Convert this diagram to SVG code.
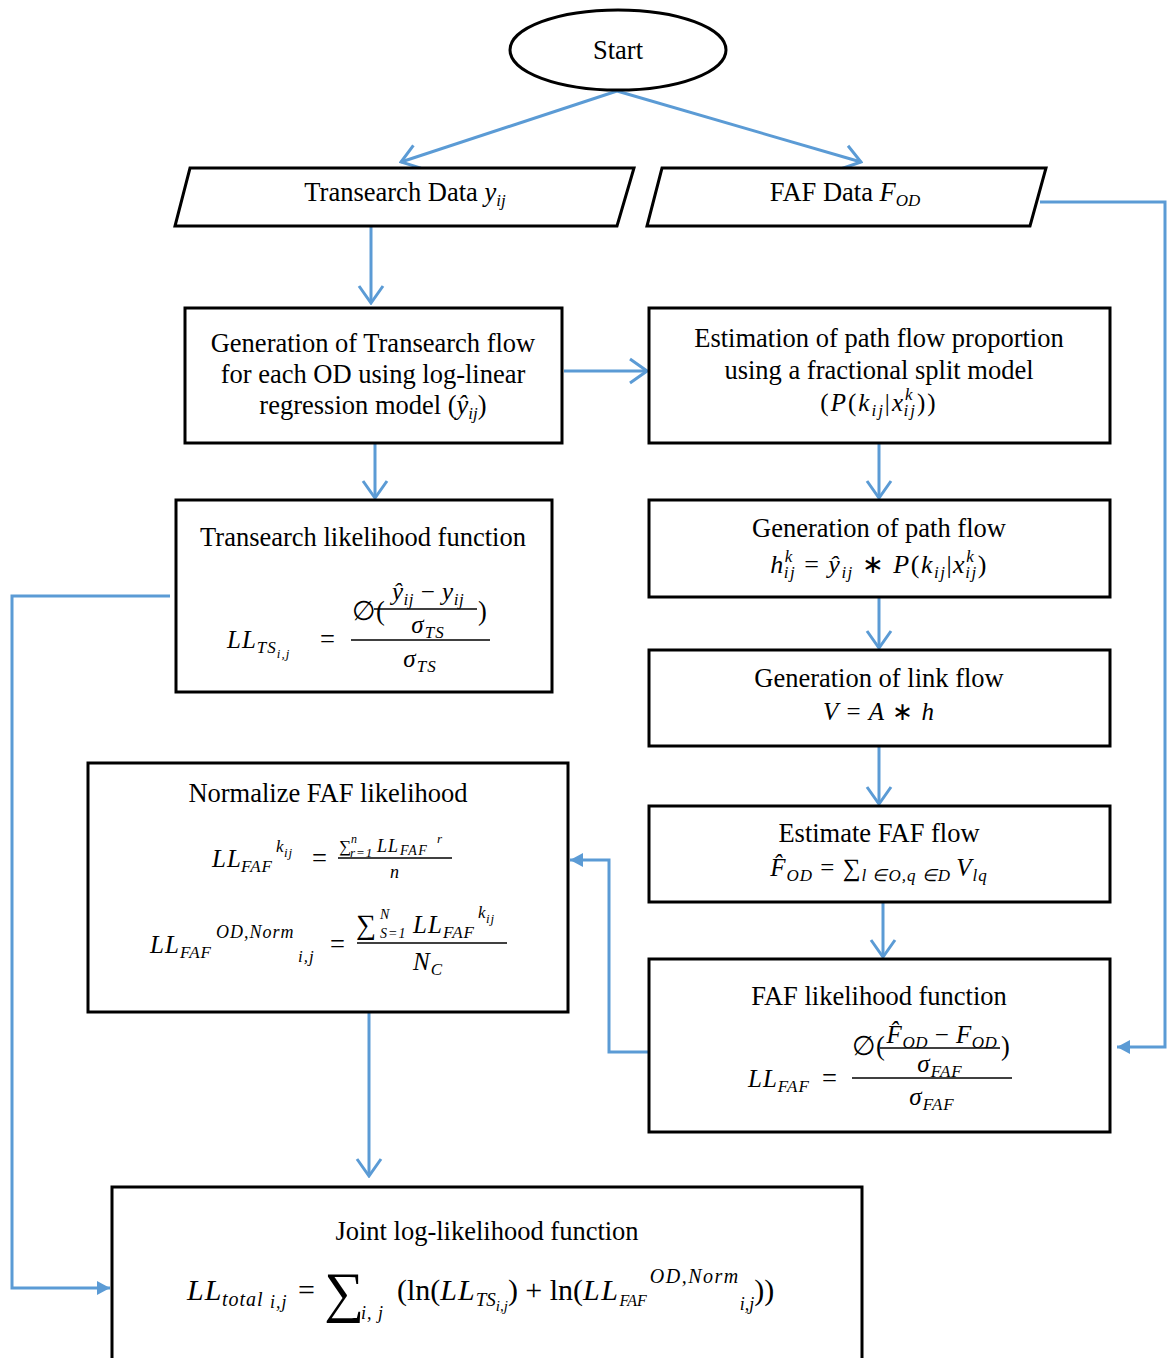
<svg xmlns="http://www.w3.org/2000/svg" width="1167" height="1358" viewBox="0 0 1167 1358">
<style>
.t{font-family:'Liberation Serif','Tinos','Times New Roman',serif;font-size:26.5px;fill:#000}
.m{font-family:'Liberation Serif','Tinos','Times New Roman',serif;font-size:25px;font-style:italic;fill:#000;letter-spacing:1px}
.i{font-style:italic}
.r{font-style:normal}
.c{text-anchor:middle}
.node{fill:#fff;stroke:#000;stroke-width:3}
.edge{fill:none;stroke:#5B9BD5;stroke-width:3}
.bar{stroke:#000;stroke-width:1.5}
</style>
<defs>
<marker id="vee" viewBox="-20 -14 22 28" refX="0" refY="0" markerWidth="22" markerHeight="28" markerUnits="userSpaceOnUse" orient="auto">
<path d="M-17,-12 L0,0 L-17,12" fill="none" stroke="#5B9BD5" stroke-width="3"/>
</marker>
<marker id="tri" viewBox="-14 -8 15 16" refX="0" refY="0" markerWidth="15" markerHeight="16" markerUnits="userSpaceOnUse" orient="auto">
<path d="M-13,-7 L0,0 L-13,7 Z" fill="#5B9BD5"/>
</marker>
</defs>

<g id="connectors">
<line class="edge" x1="617" y1="91" x2="401" y2="162" marker-end="url(#vee)"/>
<line class="edge" x1="617" y1="91" x2="861" y2="162" marker-end="url(#vee)"/>
<line class="edge" x1="371" y1="227" x2="371" y2="303" marker-end="url(#vee)"/>
<line class="edge" x1="564" y1="371" x2="647" y2="371" marker-end="url(#vee)"/>
<line class="edge" x1="375" y1="444" x2="375" y2="498" marker-end="url(#vee)"/>
<line class="edge" x1="879" y1="444" x2="879" y2="498" marker-end="url(#vee)"/>
<line class="edge" x1="879" y1="598" x2="879" y2="648" marker-end="url(#vee)"/>
<line class="edge" x1="879" y1="747" x2="879" y2="804" marker-end="url(#vee)"/>
<line class="edge" x1="883" y1="903" x2="883" y2="957" marker-end="url(#vee)"/>
<line class="edge" x1="369" y1="1013" x2="369" y2="1176" marker-end="url(#vee)"/>
<polyline class="edge" points="170,596 12,596 12,1288 110,1288" marker-end="url(#tri)"/>
<polyline class="edge" points="1040,202 1165,202 1165,1047 1117,1047" marker-end="url(#tri)"/>
<polyline class="edge" points="650,1052 609,1052 609,860 570,860" marker-end="url(#tri)"/>
</g>

<g id="start">
<ellipse class="node" cx="618" cy="50" rx="108" ry="40"/>
<text class="t c" x="618" y="59">Start</text>
</g>

<g id="transearch-data">
<polygon class="node" points="190,168 634,168 617,226 175,226"/>
<text class="t c" x="405" y="201">Transearch Data <tspan class="i">y</tspan><tspan class="i" font-size="17" dy="5">ij</tspan></text>
</g>

<g id="faf-data">
<polygon class="node" points="662,168 1046,168 1030,226 647,226"/>
<text class="t c" x="845" y="201">FAF Data <tspan class="i">F</tspan><tspan class="i" font-size="17" dy="5">OD</tspan></text>
</g>

<g id="transearch-flow">
<rect class="node" x="185" y="308" width="377" height="135"/>
<text class="t c" x="373" y="352">Generation of Transearch flow</text>
<text class="t c" x="373" y="383">for each OD using log-linear</text>
<text class="t c" x="373" y="414">regression model (<tspan class="i">ŷ</tspan><tspan class="i" font-size="17" dy="5">ij</tspan><tspan dy="-5">)</tspan></text>
</g>

<g id="path-proportion">
<rect class="node" x="649" y="308" width="461" height="135"/>
<text class="t c" x="879" y="347">Estimation of path flow proportion</text>
<text class="t c" x="879" y="379">using a fractional split model</text>
<text class="m c" x="879" y="411" style="letter-spacing:2px"><tspan class="r">(</tspan>P<tspan class="r">(</tspan>k<tspan font-size="17" dy="5">ij</tspan><tspan class="r" dy="-5">|</tspan>x<tspan font-size="17" dy="-11">k</tspan><tspan font-size="17" dx="-11" dy="16">ij</tspan><tspan class="r" dy="-5">))</tspan></text>
</g>

<g id="transearch-likelihood">
<rect class="node" x="176" y="500" width="376" height="192"/>
<text class="t c" x="363" y="546">Transearch likelihood function</text>
<text class="m" x="227" y="648">LL<tspan font-size="17" dy="5">TS</tspan><tspan font-size="13" dy="5">i,j</tspan></text>
<text class="t" x="320" y="648">=</text>
<text class="t" x="352" y="620">∅(</text>
<text class="m c" x="428" y="600" style="letter-spacing:0.5px">ŷ<tspan font-size="17" dy="5">ij</tspan><tspan class="r" dy="-5"> − </tspan>y<tspan font-size="17" dy="5">ij</tspan></text>
<line class="bar" x1="374" y1="609" x2="477" y2="609"/>
<text class="t" x="478" y="620">)</text>
<text class="m c" x="428" y="633">σ<tspan font-size="17" dy="5">TS</tspan></text>
<line class="bar" x1="351" y1="640" x2="490" y2="640"/>
<text class="m c" x="420" y="667">σ<tspan font-size="17" dy="5">TS</tspan></text>
</g>

<g id="path-flow">
<rect class="node" x="649" y="500" width="461" height="97"/>
<text class="t c" x="879" y="537">Generation of path flow</text>
<text class="m c" x="879" y="573" style="font-size:26px;letter-spacing:1.5px">h<tspan font-size="17" dy="-11">k</tspan><tspan font-size="17" dx="-10" dy="16">ij</tspan><tspan class="r" dy="-5"> =  </tspan>ŷ<tspan font-size="17" dy="5">ij</tspan><tspan class="r" dy="-5"> ∗   </tspan>P<tspan class="r">(</tspan>k<tspan font-size="17" dy="5">ij</tspan><tspan class="r" dy="-5">|</tspan>x<tspan font-size="17" dy="-11">k</tspan><tspan font-size="17" dx="-10" dy="16">ij</tspan><tspan class="r" dy="-5">)</tspan></text>
</g>

<g id="link-flow">
<rect class="node" x="649" y="650" width="461" height="96"/>
<text class="t c" x="879" y="687">Generation of link flow</text>
<text class="m c" x="879" y="720">V<tspan class="r"> =  </tspan>A<tspan class="r"> ∗ </tspan>h</text>
</g>

<g id="estimate-faf">
<rect class="node" x="649" y="806" width="461" height="96"/>
<text class="t c" x="879" y="842">Estimate FAF flow</text>
<text class="m c" x="879" y="876">F̂<tspan font-size="17" dy="5">OD</tspan><tspan class="r" dy="-5"> = </tspan><tspan class="r">∑</tspan><tspan font-size="17" dy="5">l ∈O,q ∈D </tspan><tspan dy="-5">V</tspan><tspan font-size="17" dy="5">lq</tspan></text>
</g>

<g id="faf-likelihood">
<rect class="node" x="649" y="959" width="461" height="173"/>
<text class="t c" x="879" y="1005">FAF likelihood function</text>
<text class="m" x="748" y="1087">LL<tspan font-size="17" dy="5">FAF</tspan></text>
<text class="t" x="822" y="1087">=</text>
<text class="t" x="852" y="1055">∅(</text>
<text class="m c" x="942" y="1043" style="letter-spacing:0.5px">F̂<tspan font-size="17" dy="5">OD</tspan><tspan class="r" dy="-5"> − </tspan>F<tspan font-size="17" dy="5">OD</tspan></text>
<line class="bar" x1="880" y1="1048" x2="1000" y2="1048"/>
<text class="t" x="1001" y="1055">)</text>
<text class="m c" x="940" y="1072">σ<tspan font-size="17" dy="5">FAF</tspan></text>
<line class="bar" x1="852" y1="1078" x2="1012" y2="1078"/>
<text class="m c" x="932" y="1105">σ<tspan font-size="17" dy="5">FAF</tspan></text>
</g>

<g id="normalize-faf">
<rect class="node" x="88" y="763" width="480" height="249"/>
<text class="t c" x="328" y="802">Normalize FAF likelihood</text>
<text class="m" x="212" y="867">LL</text>
<text class="m" x="241" y="872" style="font-size:17px">FAF</text>
<text class="m" x="276" y="852" style="font-size:17px">k</text>
<text class="m" x="284" y="857" style="font-size:13px">ij</text>
<text class="t" x="312" y="867">=</text>
<text class="t" x="339" y="852" style="font-size:17px">∑</text>
<text class="m" x="351" y="843" style="font-size:12px">n</text>
<text class="m" x="350" y="857" style="font-size:13px">r=1</text>
<text class="m" x="377" y="852" style="font-size:18px">LL</text>
<text class="m" x="400" y="855" style="font-size:14px;letter-spacing:1.5px">FAF</text>
<text class="m" x="437" y="843" style="font-size:13px">r</text>
<line class="bar" x1="338" y1="858" x2="452" y2="858"/>
<text class="m c" x="395" y="878" style="font-size:18px">n</text>
<text class="m" x="150" y="953">LL</text>
<text class="m" x="180" y="958" style="font-size:17px">FAF</text>
<text class="m" x="216" y="938" style="font-size:18px">OD,Norm</text>
<text class="m" x="298" y="962" style="font-size:17px">i,j</text>
<text class="t" x="330" y="953">=</text>
<text class="t" x="356" y="934" style="font-size:28px">∑</text>
<text class="m" x="380" y="919" style="font-size:14px">N</text>
<text class="m" x="380" y="938" style="font-size:14px">S=1</text>
<text class="m" x="413" y="933">LL</text>
<text class="m" x="443" y="938" style="font-size:17px">FAF</text>
<text class="m" x="478" y="918" style="font-size:17px">k</text>
<text class="m" x="486" y="923" style="font-size:13px">ij</text>
<line class="bar" x1="357" y1="943" x2="507" y2="943"/>
<text class="m c" x="428" y="970">N<tspan font-size="17" dy="5">C</tspan></text>
</g>

<g id="joint-likelihood">
<rect class="node" x="112" y="1187" width="750" height="200"/>
<text class="t c" x="487" y="1240">Joint log-likelihood function</text>
<text class="m" x="187" y="1300" style="font-size:30px">LL</text>
<text class="m" x="222" y="1306" style="font-size:20px">total</text>
<text class="m" x="270" y="1308" style="font-size:18px">i,j</text>
<text class="t" x="298" y="1300" style="font-size:30px">=</text>
<text class="t" x="324" y="1311" style="font-size:56px">∑</text>
<text class="m" x="361" y="1319" style="font-size:18px">i,  j</text>
<text class="t" x="397" y="1300" style="font-size:30px">(ln(<tspan class="i" style="letter-spacing:1px">LL</tspan><tspan class="i" font-size="19" dy="6">TS</tspan><tspan class="i" font-size="15" dy="5">i,j</tspan><tspan dy="-11">) + ln(</tspan><tspan class="i" style="letter-spacing:1.5px">LL</tspan><tspan class="i" font-size="16" dy="6">FAF</tspan><tspan class="i" font-size="20" dx="3" dy="-23" style="letter-spacing:1.5px">OD,Norm</tspan><tspan class="i" font-size="18" dy="27">i,j</tspan><tspan dy="-10">))</tspan></text>
</g>
</svg>
